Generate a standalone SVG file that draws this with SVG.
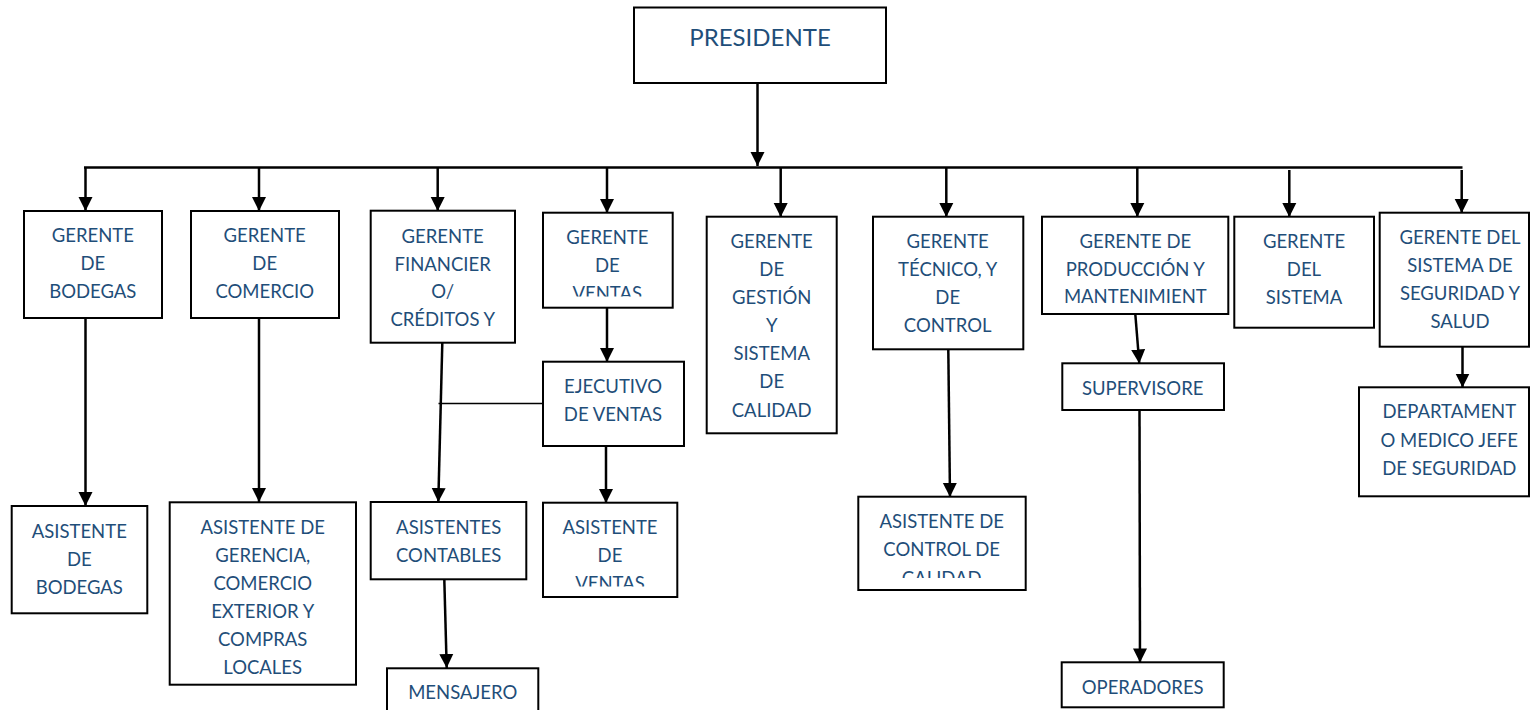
<svg xmlns="http://www.w3.org/2000/svg" width="1531" height="710" viewBox="0 0 1531 710">
<style>
.box{fill:#fff;stroke:#000;stroke-width:2}
.t{font-family:Lato,"Open Sans","Liberation Sans",sans-serif;font-size:18.5px;fill:#1f4e79;text-anchor:middle}
.big{font-size:24px}
.c{fill:none;stroke:#000;stroke-width:2.5}
.thin{stroke-width:1.6}
</style>
<defs>
<marker id="ah" markerUnits="userSpaceOnUse" markerWidth="15" markerHeight="15" refX="14" refY="7.5" orient="auto" viewBox="0 0 15 15">
<path d="M0,0.5 L14,7.5 L0,14.5 z" fill="#000"/>
</marker>
<clipPath id="cpVentas"><rect x="543" y="212" width="130" height="84.5"/></clipPath>
<clipPath id="cpProd"><rect x="1042" y="216" width="186" height="88"/></clipPath>
<clipPath id="cpAsV"><rect x="543" y="502" width="135" height="84.5"/></clipPath>
<clipPath id="cpCal"><rect x="858" y="496" width="168" height="82"/></clipPath>
</defs>
<g id="connectors">
<line class="c" x1="757.5" y1="83" x2="757.5" y2="166" marker-end="url(#ah)"/>
<line class="c" x1="84" y1="167.5" x2="1462.5" y2="167.5"/>
<line class="c" x1="85.5" y1="167.5" x2="85.5" y2="211" marker-end="url(#ah)"/>
<line class="c" x1="259" y1="167.5" x2="259" y2="211" marker-end="url(#ah)"/>
<line class="c" x1="437.7" y1="167.5" x2="437.7" y2="211" marker-end="url(#ah)"/>
<line class="c" x1="607" y1="167.5" x2="607" y2="213" marker-end="url(#ah)"/>
<line class="c" x1="780.7" y1="167.5" x2="780.7" y2="217" marker-end="url(#ah)"/>
<line class="c" x1="946.3" y1="167.5" x2="946.3" y2="217" marker-end="url(#ah)"/>
<line class="c" x1="1137.3" y1="167.5" x2="1137.3" y2="217" marker-end="url(#ah)"/>
<line class="c" x1="1289.3" y1="170" x2="1289.3" y2="217" marker-end="url(#ah)"/>
<line class="c" x1="1461.7" y1="170" x2="1461.7" y2="213" marker-end="url(#ah)"/>
<line class="c" x1="85.5" y1="318" x2="85.5" y2="506" marker-end="url(#ah)"/>
<line class="c" x1="259" y1="318" x2="259" y2="502" marker-end="url(#ah)"/>
<line class="c" x1="442.3" y1="343" x2="438.3" y2="502" marker-end="url(#ah)"/>
<line class="c thin" x1="438.5" y1="403.5" x2="543" y2="403.5"/>
<line class="c" x1="607" y1="308" x2="607" y2="362" marker-end="url(#ah)"/>
<line class="c" x1="606" y1="446" x2="606" y2="503" marker-end="url(#ah)"/>
<line class="c" x1="444.3" y1="579" x2="446.7" y2="668" marker-end="url(#ah)"/>
<line class="c" x1="948.3" y1="349" x2="950" y2="497" marker-end="url(#ah)"/>
<line class="c" x1="1135.3" y1="314" x2="1139.3" y2="363.5" marker-end="url(#ah)"/>
<line class="c" x1="1139.5" y1="410" x2="1140" y2="662.5" marker-end="url(#ah)"/>
<line class="c" x1="1462.5" y1="347" x2="1462.5" y2="387.5" marker-end="url(#ah)"/>
</g>
<g id="presidente">
<rect class="box" x="634" y="7.5" width="252" height="75.5"/>
<text class="t big" x="760" y="45.5">PRESIDENTE</text>
</g>
<g id="gerente-bodegas">
<rect class="box" x="24" y="211" width="138" height="107"/>
<text class="t"><tspan x="92.8" y="242.4">GERENTE</tspan><tspan x="92.8" y="270.4">DE</tspan><tspan x="92.8" y="298.4">BODEGAS</tspan></text>
</g>
<g id="gerente-comercio">
<rect class="box" x="191" y="211" width="148" height="107"/>
<text class="t"><tspan x="264.7" y="242.4">GERENTE</tspan><tspan x="264.7" y="270.4">DE</tspan><tspan x="264.7" y="298.4">COMERCIO</tspan></text>
</g>
<g id="gerente-financiero">
<rect class="box" x="370.7" y="210.7" width="144.3" height="132"/>
<text class="t"><tspan x="442.7" y="242.7">GERENTE</tspan><tspan x="442.7" y="270.7">FINANCIER</tspan><tspan x="442.7" y="298.4">O/</tspan><tspan x="442.7" y="326">CRÉDITOS Y</tspan></text>
</g>
<g id="gerente-ventas">
<rect class="box" x="543" y="212.7" width="129.7" height="95"/>
<text class="t" clip-path="url(#cpVentas)"><tspan x="607.3" y="244.4">GERENTE</tspan><tspan x="607.3" y="272.4">DE</tspan><tspan x="607.3" y="300">VENTAS</tspan></text>
</g>
<g id="ejecutivo-ventas">
<rect class="box" x="543" y="361.7" width="141" height="84.3"/>
<text class="t"><tspan x="613" y="393.4">EJECUTIVO</tspan><tspan x="613" y="421">DE VENTAS</tspan></text>
</g>
<g id="gerente-gestion">
<rect class="box" x="706.7" y="216.7" width="130" height="216.6"/>
<text class="t"><tspan x="771.7" y="247.7">GERENTE</tspan><tspan x="771.7" y="275.7">DE</tspan><tspan x="771.7" y="304">GESTIÓN</tspan><tspan x="771.7" y="332.4">Y</tspan><tspan x="771.7" y="360.4">SISTEMA</tspan><tspan x="771.7" y="388.4">DE</tspan><tspan x="771.7" y="416.7">CALIDAD</tspan></text>
</g>
<g id="gerente-tecnico">
<rect class="box" x="873" y="216.7" width="150.3" height="132.6"/>
<text class="t"><tspan x="947.7" y="247.7">GERENTE</tspan><tspan x="947.7" y="275.7">TÉCNICO, Y</tspan><tspan x="947.7" y="304">DE</tspan><tspan x="947.7" y="332.4">CONTROL</tspan></text>
</g>
<g id="gerente-produccion">
<rect class="box" x="1042" y="216.7" width="186.3" height="97.3"/>
<text class="t" clip-path="url(#cpProd)"><tspan x="1135.3" y="248.4">GERENTE DE</tspan><tspan x="1135.3" y="276">PRODUCCIÓN Y</tspan><tspan x="1135.3" y="303.4">MANTENIMIENT</tspan></text>
</g>
<g id="gerente-sistema">
<rect class="box" x="1234.3" y="216.7" width="139.7" height="111"/>
<text class="t"><tspan x="1304" y="248.4">GERENTE</tspan><tspan x="1304" y="276">DEL</tspan><tspan x="1304" y="304">SISTEMA</tspan></text>
</g>
<g id="gerente-seguridad">
<rect class="box" x="1379.7" y="212.7" width="149.3" height="134"/>
<text class="t"><tspan x="1460" y="244.4">GERENTE DEL</tspan><tspan x="1460" y="272.4">SISTEMA DE</tspan><tspan x="1460" y="300">SEGURIDAD Y</tspan><tspan x="1460" y="328.4">SALUD</tspan></text>
</g>
<g id="departamento-medico">
<rect class="box" x="1359" y="387.3" width="170" height="109"/>
<text class="t"><tspan x="1449.3" y="418.4">DEPARTAMENT</tspan><tspan x="1449.3" y="446.7">O MEDICO JEFE</tspan><tspan x="1449.3" y="475">DE SEGURIDAD</tspan></text>
</g>
<g id="supervisore">
<rect class="box" x="1062.3" y="363.3" width="161.7" height="46.7"/>
<text class="t" x="1142.7" y="395">SUPERVISORE</text>
</g>
<g id="operadores">
<rect class="box" x="1061.7" y="662.3" width="162" height="45"/>
<text class="t" x="1142.7" y="694">OPERADORES</text>
</g>
<g id="asistente-bodegas">
<rect class="box" x="11.7" y="506" width="135.6" height="107.3"/>
<text class="t"><tspan x="79.3" y="538.4">ASISTENTE</tspan><tspan x="79.3" y="566.4">DE</tspan><tspan x="79.3" y="594">BODEGAS</tspan></text>
</g>
<g id="asistente-gerencia">
<rect class="box" x="169.7" y="502.3" width="186.3" height="182.4"/>
<text class="t"><tspan x="262.7" y="534">ASISTENTE DE</tspan><tspan x="262.7" y="562">GERENCIA,</tspan><tspan x="262.7" y="590">COMERCIO</tspan><tspan x="262.7" y="618">EXTERIOR Y</tspan><tspan x="262.7" y="646">COMPRAS</tspan><tspan x="262.7" y="674">LOCALES</tspan></text>
</g>
<g id="asistentes-contables">
<rect class="box" x="370.7" y="502" width="155.6" height="77.3"/>
<text class="t"><tspan x="448.7" y="534">ASISTENTES</tspan><tspan x="448.7" y="561.7">CONTABLES</tspan></text>
</g>
<g id="mensajero">
<rect class="box" x="387" y="668.3" width="151.3" height="50"/>
<text class="t" x="462.7" y="699">MENSAJERO</text>
</g>
<g id="asistente-ventas">
<rect class="box" x="543" y="502.7" width="134.3" height="94.3"/>
<text class="t" clip-path="url(#cpAsV)"><tspan x="610" y="534.4">ASISTENTE</tspan><tspan x="610" y="562.4">DE</tspan><tspan x="610" y="590">VENTAS</tspan></text>
</g>
<g id="asistente-calidad">
<rect class="box" x="858.3" y="496.7" width="167.4" height="93.3"/>
<text class="t" clip-path="url(#cpCal)"><tspan x="941.7" y="528.4">ASISTENTE DE</tspan><tspan x="941.7" y="556.4">CONTROL DE</tspan><tspan x="941.7" y="585">CALIDAD</tspan></text>
</g>
</svg>
